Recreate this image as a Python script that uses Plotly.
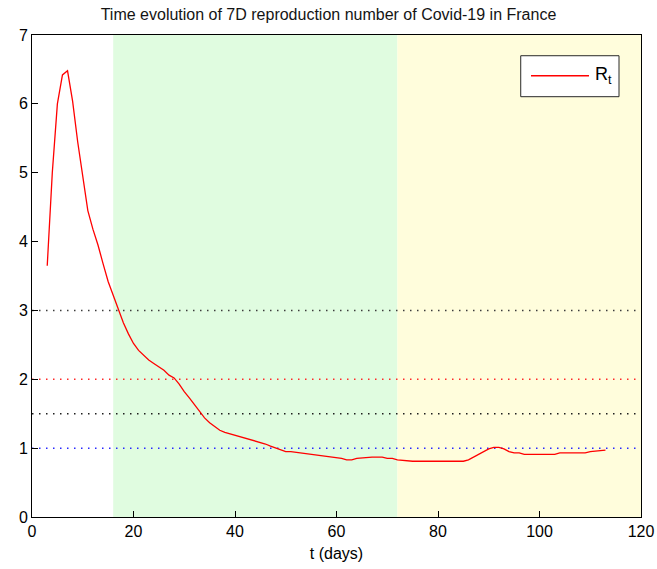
import plotly.graph_objects as go

# Daily 7-day reproduction number estimates (day index -> R_t)
days = list(range(3, 114))
r_t = [
    3.65, 5.00, 6.00, 6.42, 6.48, 6.04, 5.45, 4.98, 4.45, 4.18,   # 3-12
    3.95, 3.68, 3.42, 3.22, 3.02, 2.82, 2.66, 2.52, 2.42, 2.35,   # 13-22
    2.28, 2.23, 2.18, 2.13, 2.06, 2.02, 1.93, 1.82, 1.73, 1.63,   # 23-32
    1.53, 1.44, 1.37, 1.31, 1.26, 1.23, 1.21, 1.19, 1.17, 1.14,   # 33-42
    1.12, 1.10, 1.08, 1.06, 1.03, 1.00, 0.97, 0.95, 0.95, 0.94,   # 43-52
    0.93, 0.92, 0.91, 0.91, 0.90, 0.89, 0.88, 0.87, 0.85, 0.83,   # 53-62
    0.83, 0.85, 0.86, 0.87, 0.87, 0.87, 0.87, 0.85, 0.85, 0.83,   # 63-72
    0.82, 0.81, 0.81, 0.81, 0.81, 0.81, 0.81, 0.81, 0.81, 0.81,   # 73-82
    0.81, 0.81, 0.81, 0.83, 0.87, 0.91, 0.96, 0.99, 1.01, 1.01,   # 83-92
    0.99, 0.95, 0.93, 0.93, 0.91, 0.91, 0.91, 0.91, 0.91, 0.91,   # 93-102
    0.91, 0.93, 0.93, 0.93, 0.93, 0.93, 0.93, 0.95, 0.96, 0.97,   # 103-112
    0.97,                                                          # 113
]

# Phases shaded in the background (start day, end day, colour)
phase_start = [16, 72]
phase_end = [72, 120]
phase_color = ["rgb(224,252,224)", "rgb(255,253,220)"]

# Reference thresholds drawn as dotted lines
ref_levels = [3, 2, 1.5, 1]
ref_colors = ["rgb(60,60,60)", "rgb(255,40,40)", "rgb(30,30,30)", "rgb(40,40,255)"]

x_ticks = [0, 20, 40, 60, 80, 100, 120]
y_ticks = [0, 1, 2, 3, 4, 5, 6, 7]

FONT = "Liberation Sans, Arial, sans-serif"
FSIZE = 16

fig = go.Figure()

fig.add_trace(go.Scatter(
    x=days, y=r_t, mode="lines", name="R<sub>t</sub>",
    line=dict(color="rgb(255,0,0)", width=1.3),
    showlegend=False, hoverinfo="x+y",
))

shapes = []
for s, e, c in zip(phase_start, phase_end, phase_color):
    shapes.append(dict(type="rect", xref="x", yref="paper", x0=s, x1=e, y0=0, y1=1,
                       fillcolor=c, line=dict(width=0), layer="below"))
for lvl, c in zip(ref_levels, ref_colors):
    shapes.append(dict(type="line", xref="paper", yref="y", x0=0, x1=1, y0=lvl, y1=lvl,
                       line=dict(color=c, width=1.5, dash="1.5px,5.5px"), layer="below"))

# Legend box drawn in paper coordinates
shapes.append(dict(type="rect", xref="paper", yref="paper", x0=0.8025, x1=0.9639,
                   y0=0.872, y1=0.957, fillcolor="white",
                   line=dict(color="rgb(40,40,40)", width=1), layer="above"))
shapes.append(dict(type="line", xref="paper", yref="paper", x0=0.8194, x1=0.9146,
                   y0=0.9155, y1=0.9155, line=dict(color="rgb(255,0,0)", width=1.3),
                   layer="above"))

fig.update_layout(
    width=657, height=569,
    margin=dict(l=32, r=16, t=35, b=52, autoexpand=False),
    paper_bgcolor="white", plot_bgcolor="white",
    font=dict(family=FONT, size=FSIZE, color="black"),
    title=dict(text="Time evolution of 7D reproduction number of Covid-19 in France",
               x=0.5, xanchor="center", y=0.9754, yanchor="middle",
               font=dict(family=FONT, size=FSIZE, color="rgb(20,20,20)")),
    shapes=shapes,
    annotations=[dict(text="R<sub>t</sub>", xref="paper", yref="paper",
                      x=0.922, y=0.9155, xanchor="left", yanchor="middle",
                      showarrow=False, font=dict(family=FONT, size=18, color="black"))],
    showlegend=False,
)

fig.update_xaxes(
    range=[0, 120], tickvals=x_ticks, ticks="inside", ticklen=6, tickcolor="black",
    showline=True, linecolor="black", linewidth=1, mirror=True,
    showgrid=False, zeroline=False, automargin=False, ticklabeloverflow="allow",
    title=dict(text="t (days)", standoff=8, font=dict(size=FSIZE)),
    tickfont=dict(size=FSIZE),
)
fig.update_yaxes(
    range=[0, 7], tickvals=y_ticks, ticks="inside", ticklen=6, tickcolor="black",
    showline=True, linecolor="black", linewidth=1, mirror=True,
    showgrid=False, zeroline=False, automargin=False, ticklabeloverflow="allow",
    tickfont=dict(size=FSIZE),
)

fig.write_html("out.html")
